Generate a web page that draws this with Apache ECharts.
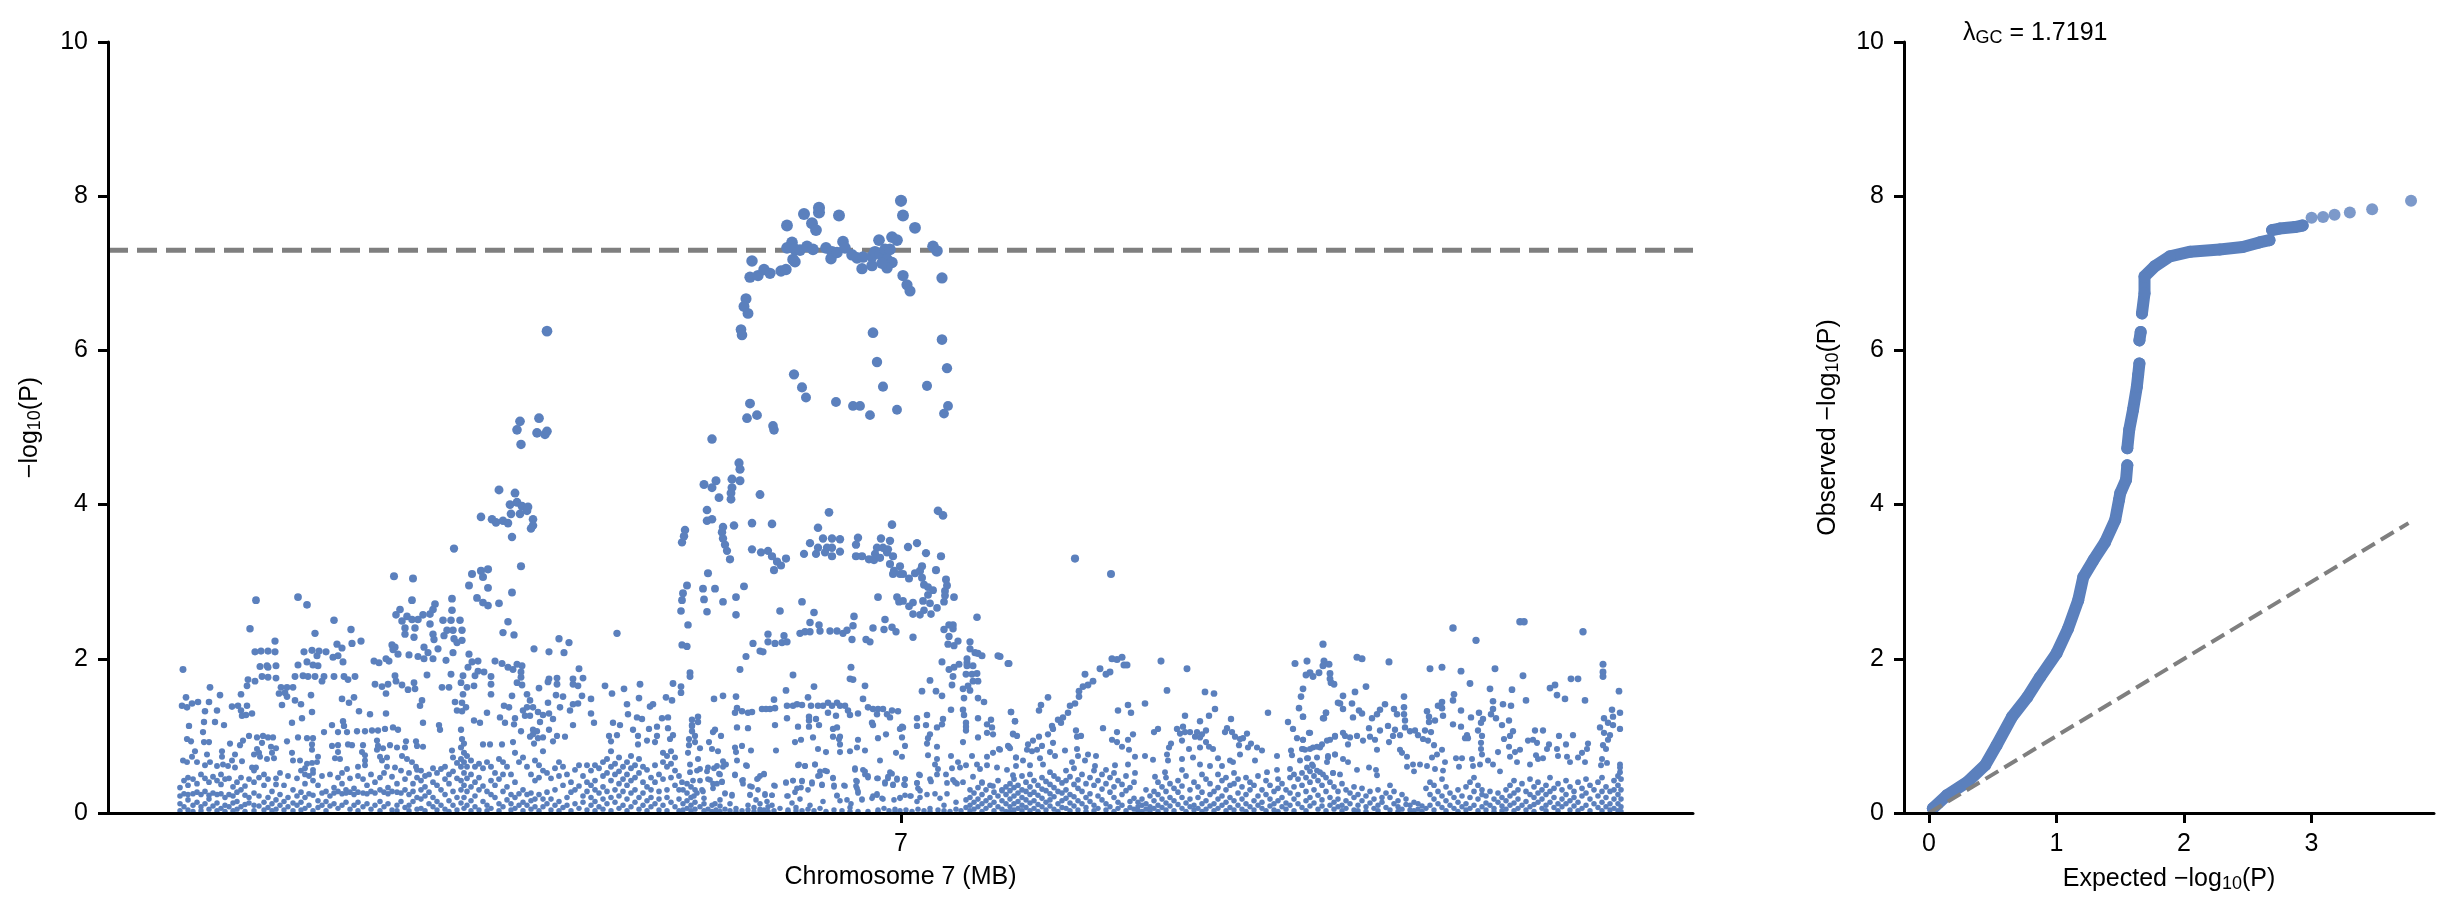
<!DOCTYPE html>
<html>
<head>
<meta charset="utf-8">
<style>html,body{margin:0;padding:0;background:#fff}#main{width:2452px;height:916px}</style>
<script src="https://cdn.jsdelivr.net/npm/echarts@6/dist/echarts.min.js"></script>
</head>
<body>
<div id="main"></div>
<script>
// flat lists: position, -log10(P), position, -log10(P) ...  (position in kb along the plotted stretch)
var peakTop = [793,7.94,795,7.75,807,7.59,711,7.85,711,7.79,696,7.77,731,7.75,704,7.65,708,7.56,679,7.62,684,7.4,679,7.33,687,7.31,692,7.3,699,7.35,705,7.31,718,7.33,724,7.28,723,7.19,729,7.27,735,7.41,737,7.33,744,7.24,749,7.2,755,7.21,764,7.22,771,7.43,767,7.28,772,7.25,777,7.31,782,7.31,784,7.47,789,7.43,779,7.18,784,7.14,779,7.07,774,7.13,764,7.1,754,7.06,795,6.97,799,6.85,802,6.77,825,7.35,829,7.29,834,6.94,685,7.18,687,7.15,644,7.16,642,6.95,650,6.97,656,7.05,662,7,673,7.03,678,7.05,638,6.67,636,6.57,640,6.48,633,6.27,634,6.2,765,6.23,834,6.14,769,5.85,839,5.77,686,5.69,694,5.52,698,5.39,775,5.53,819,5.54,728,5.33,745,5.28,752,5.28,789,5.23,840,5.28,836,5.18,762,5.16,642,5.31,649,5.16,639,5.12,665,5.02,666,4.97];
var peakMid = [604,4.85,631,4.54,632,4.46,624,4.33,632,4.31,608,4.31,596,4.26,604,4.22,624,4.22,623,4.15,652,4.13,611,4.09,623,4.07,599,3.93,604,3.81,599,3.79,577,3.67,576,3.59,574,3.51,615,3.71,614,3.64,615,3.56,617,3.48,619,3.4,626,3.73,644,3.76,664,3.75,644,3.42,653,3.38,660,3.4,664,3.33,678,3.3,669,3.26,673,3.21,666,3.15,622,3.29,721,3.9,710,3.7,702,3.5,696,3.36,708,3.36,710,3.44,715,3.56,724,3.56,732,3.55,719,3.44,717,3.38,724,3.44,724,3.33,732,3.39,750,3.57,748,3.48,748,3.33,754,3.33,761,3.29,766,3.28,773,3.56,782,3.53,769,3.44,775,3.44,780,3.42,767,3.36,772,3.31,779,3.38,785,3.33,784,3.74,800,3.45,809,3.5,818,3.37,833,3.33,830,3.92,835,3.86];
var peakArc = [782,3.23,792,3.2,786,3.14,785,3.1,792,3.1,795,3.1,801,3.04,807,3.11,812,3.14,814,3.2,828,3.15,814,3.05,816,2.96,820,2.93,825,2.89,838,3.03,839,2.95,837,2.88,837,2.82,836,2.74,846,2.8,820,2.83,815,2.75,822,2.72,829,2.66,805,2.73,801,2.68,795,2.75,789,2.8,791,2.74,770,2.8,816,2.63,823,2.58,812,2.57,805,2.58,869,2.54,841,2.44,845,2.44,845,2.39,836,2.38,841,2.29,850,2.23,840,2.19,846,2.17,862,2.22,862,2.13,867,2.08,870,2.07,874,2.04,859,2,890,2.04,600,3.11,579,2.95,595,2.91,607,2.91,636,2.94,575,2.85,596,2.77,574,2.76,615,2.74,628,2.8,573,2.62,599,2.61,628,2.57,580,2.44,574,2.18,579,2.16,694,2.74,706,2.6,672,2.62,702,2.47,711,2.44,746,2.55,745,2.43,777,2.51,692,2.33,697,2.35,702,2.35,712,2.36,722,2.36,729,2.36,735,2.33,739,2.37,765,2.4,776,2.38,784,2.41,788,2.35,744,2.25,758,2.25,762,2.22,805,2.28,660,2.32,676,2.3,660,2.22,667,2.2,674,2.21,679,2.22,645,2.2,652,2.1,655,2.09,638,2.03];
var leftHump = [439,6.25,431,5.12,412,5.08,409,4.97,429,4.93,437,4.91,439,4.95,413,4.78,391,4.19,407,4.15,402,4,409,4.03,414,3.98,420,3.97,419,3.92,412,3.88,403,3.88,373,3.84,384,3.81,388,3.77,395,3.79,400,3.76,425,3.81,425,3.73,423,3.69,404,3.58,346,3.43,413,3.2,373,3.14,380,3.16,364,3.1,375,3.06,361,2.95,380,2.92,404,2.86,369,2.79,375,2.73,380,2.69,391,2.72,344,2.78,327,2.71,325,2.64,344,2.63,315,2.57,322,2.58,335,2.5,343,2.5,352,2.5,400,2.48,322,2.45,395,2.34,406,2.31,339,2.37,345,2.37,354,2.37,325,2.32,336,2.3,326,2.25,346,2.26,354,2.24,349,2.21,316,2.15,330,2.13,320,2.08,345,2.08,316,2,325,2,338,1.98,361,2.06,364,1.96,370,1.97,360,1.89,387,1.97,394,1.94,400,1.89,409,1.93,414,1.91,405,1.86,413,1.83,426,2.13,451,2.26,461,2.21,441,2.09,456,2.08,509,2.33,319,1.79,343,1.8,355,1.78,376,1.83,370,1.84,367,1.78,383,1.77,413,1.76,471,1.87,475,1.75,449,1.75,441,1.74,465,1.74,353,1.69,334,1.63,341,1.63,359,1.63,366,1.65,383,1.67,409,1.69,414,1.66,431,1.62,449,1.67,440,1.7,465,1.67,470,1.65,497,1.65,516,1.61,532,1.67,504,1.55,565,1.68,573,1.64,531,1.49,558,1.5,564,1.46];
var leftSpread = [355,1.54,383,1.54,404,1.52,419,1.54,448,1.53,455,1.51,474,1.52,314,1.46,347,1.44,354,1.43,422,1.46,440,1.43,483,1.48,470,1.42,396,1.39,401,1.37,358,1.37,349,1.33,354,1.32,379,1.3,419,1.37,415,1.33,425,1.37,452,1.37,462,1.33,465,1.41,519,1.41,542,1.38,545,1.41,430,1.31,435,1.27,441,1.29,483,1.29,520,1.28,529,1.24,534,1.22,554,1.23,560,1.24,590,1.25,392,1.24,407,1.23,417,1.26,422,1.26,445,1.22,432,1.18,486,1.17,366,1.2,372,1.17,397,1.17,406,1.15,315,1.17,331,1.14,332,1.08,353,1.08,465,1.14,505,1.17,512,1.14,549,1.12,584,1.21,584,1.14,541,1.09,560,1.1,525,1.08,413,1.06,425,1.08,429,1.06,441,1.08,449,1,457,.99,422,.99,425,1.02,435,.98,430,.97,509,1.01,501,1,530,1,549,1,565,1.01,587,1,354,.96,539,.94,547,.92,562,.96,581,.96,445,.93,426,.9,405,.92,394,.89,375,.89,382,.89,503,.93,530,.89,315,.86,344,.81];
var farLeft = [286,3.07,305,3.04,190,2.8,199,2.7,148,2.76,304,2.76,292,2.64,288,2.57,299,2.55,294,2.49,304,2.51,310,2.51,226,2.5,297,2.4,307,2.4,297,2.32,306,2.28,142,2.39,243,2.38,207,2.33,167,2.23,253,2.23,244,2.2,229,2.19,234,2.14,284,2.18,287,2.15,285,2.12,147,2.09,153,2.1,160,2.1,167,2.09,196,2.09,204,2.11,211,2.1,218,2.09,209,2.04,290,2.06,301,2.05,310,2.03,225,2.02,230,2.04,199,1.96,235,1.96,266,1.97,271,1.95,278,2,281,1.97,190,1.92,152,1.9,159,1.91,160,1.89,168,1.91,205,1.92,210,1.91,75,1.86,140,1.73,147,1.71,154,1.77,160,1.76,168,1.75,187,1.77,195,1.78,200,1.77,207,1.77,216,1.77,214,1.71,226,1.77,236,1.77,240,1.73,247,1.77,287,1.78,288,1.71,267,1.67,274,1.64,280,1.67,294,1.66,306,1.69,139,1.65,102,1.63,173,1.63,179,1.63,185,1.63,300,1.6,307,1.61,171,1.55,177,1.56,179,1.51,278,1.55,133,1.54,78,1.5,112,1.53,203,1.53,234,1.48,246,1.5,241,1.43,187,1.46,90,1.44,84,1.42,101,1.44,74,1.39,79,1.37,124,1.38,130,1.39,139,1.39,174,1.4,193,1.41,97,1.32,109,1.33,133,1.33,144,1.29,134,1.26,138,1.27,204,1.31,251,1.32,262,1.28,278,1.29,312,1.39];
var farLeftLow = [194,1.23,96,1.18,107,1.18,184,1.17,116,1.14,81,1.13,235,1.19,236,1.13,224,1.14,95,1.05,216,1.05,230,1.05,239,1.05,249,1.06,257,1.06,264,1.07,270,1.07,277,1.09,285,1.11,290,1.08,141,1,149,.98,155,1,160,.98,165,.98,190,.98,199,.97,205,.97,79,.96,83,.93,179,.93,135,.94,96,.92,101,.92,122,.9,132,.88,154,.91,269,.94,270,.87,298,.93,308,.93,204,.89,224,.87,230,.88,240,.89,244,.88,255,.88,282,.88,289,.85,204,.82,163,.86,168,.84,149,.83,269,.82,275,.84,297,.85,309,.87,87,.8,114,.8,151,.78,184,.78,230,.79,254,.79,164,.78,99,.76,114,.73,127,.76,146,.76,152,.73,210,.73,294,.74,257,.75,84,.73,166,.71,159,.7,227,.71,232,.7,272,.73,279,.72,299,.7,75,.68,79,.66,89,.66,102,.66,97,.62,109,.61,115,.63,120,.61,124,.68,134,.67,185,.68,192,.68,199,.64,204,.65,209,.66,257,.68,274,.68,304,.66,127,.59,144,.59,148,.59,197,.58,205,.56,239,.57,250,.6,257,.62,287,.59,279,.6,308,.6];
var centreLow = [743,1.89,742,1.74,745,1.73,757,1.65,706,1.64,685,1.79,582,1.82,582,1.77,632,1.86,678,1.59,814,1.58,822,1.72,828,1.58,834,1.52,844,1.66,845,1.77,834,1.96,841,1.86,846,1.89,851,1.93,859,1.95,859,1.91,865,1.91,858,1.8,864,1.8,869,1.81,865,1.71,870,1.71,860,1.65,855,1.61,862,1.59,856,1.49,870,1.49,876,1.44,900,1.94,573,1.56,606,1.48,615,1.52,628,1.51,666,1.47,700,1.5,755,1.48,679,1.39,685,1.39,689,1.41,694,1.4,703,1.39,710,1.39,715,1.39,720,1.43,724,1.39,729,1.43,732,1.39,737,1.39,654,1.35,658,1.35,662,1.35,667,1.36,627,1.3,629,1.36,634,1.32,640,1.3,644,1.31,760,1.37,765,1.35,770,1.35,775,1.35,769,1.28,779,1.28,784,1.33,790,1.32,782,1.24,740,1.33,742,1.27,750,1.29,720,1.3,728,1.26,843,1.34,855,1.34,856,1.27,903,1.31,907,1.19,679,1.23,701,1.25,701,1.2,708,1.22,809,1.23,819,1.27,835,1.22,870,1.23,883,1.21,590,1.18,584,1.13,584,1.06,629,1.11,640,1.1,667,1.14,690,1.12,701,1.12,711,1.14,725,1.09,729,1.11,764,1.17,765,1.14,809,1.13,818,1.14,829,1.11,834,1.15,794,1.12,795,1.11,792,1.09,858,1.17,858,1.12,858,1.07,879,1.15,884,1.11,879,1.04,885,1.02,607,1.08,605,1.05,613,1,725,.99,732,.99,705,.98,693,.95,687,.92,750,.95,732,.89,731,.96,770,.97,778,1.02,794,.98,822,1.02,820,.97,870,.98,905,1.02,855,.92,819,.9];
var centreBase = [587,.92,601,.92,581,.88,592,.84,604,.83,610,.8,634,.87,627,.85,643,.81,580,.78,628,.79,668,.81,710,.83,718,.79,732,.79,742,.8,749,.85,757,.81,788,.78,797,.87,829,.86,900,.87,891,.83,885,.78,879,.73,864,.74,843,.74,820,.75,794,.73,590,.7,629,.68,615,.67,618,.63,638,.62,772,.68,691,.63,697,.61,707,.63,829,.7,827,.63,850,.66,858,.62,869,.63,879,.62,908,.72,582,.63,609,.61,600,.59,592,.57,615,.6,747,.58,717,.55,712,.54,755,.56,830,.57,844,.58,852,.59,872,.57,889,.59,899,.56,582,.53,589,.55,611,.51,627,.5,656,.51,652,.48,649,.44,710,.48,725,.46,757,.5,760,.48,782,.53,780,.47,789,.45,797,.44,811,.5,829,.5,838,.5,865,.47,905,.49,574,.4,579,.38,585,.42,592,.42,600,.44,605,.38,614,.4,634,.42,635,.38,642,.35,666,.36,678,.4,685,.42,694,.42,704,.4,714,.37,726,.36,736,.36,748,.42,748,.35,750,.28,770,.45,777,.4,785,.37,796,.37,809,.39,822,.44,839,.39,847,.4,855,.4,874,.39,885,.35,894,.29,586,.22,595,.28,589,.26,617,.26,624,.24,642,.24,657,.25,664,.23,679,.22,687,.27,693,.33,729,.23,754,.18,765,.22,769,.25,774,.19,792,.2,797,.23,803,.22];
var centreRing = [599,.54,606,.58,612,.5,602,.43,609,.38,614,.41,594,.3,605,.32,596,.19,607,.12,612,.17,617,.25,624,.22,627,.49,635,.43,639,.61,644,.34,650,.45,656,.5,642,.23,650,.3,657,.23,664,.23,648,.17,659,.15,664,.1,667,.35,678,.39,685,.42,694,.41,690,.62,697,.61,707,.63,704,.38,689,.32,700,.3,680,.22,692,.18,684,.13,702,.1,715,.15,714,.36,712,.49,719,.54,725,.45,726,.34,737,.35,729,.22,732,.16,739,.17,743,.12,747,.56,757,.54,760,.46,749,.41,749,.32,750,.26,754,.17,769,.45,777,.38,784,.51,780,.45,789,.43,785,.36,797,.44,797,.36,812,.49,809,.39,810,.32,812,.29,769,.23,764,.19,775,.18,786,.17,792,.19,802,.22,812,.2,809,.15,819,.24,827,.25,823,.41,832,.19,839,.25,845,.43,849,.38];
var rightRise = [967,3.3,1003,3.1,892,2.03,901,1.94,1004,2,1009,1.99,1014,2.02,1016,1.92,1019,1.92,1053,1.97,1079,1.87,992,1.87,977,1.8,998,1.8,1002,1.83,985,1.71,980,1.66,975,1.64,971,1.58,971,1.51,967,1.42,962,1.39,960,1.3,955,1.24,950,1.21,953,1.17,944,1.13,945,1.09,940,1.5,933,1.4,931,1.33,903,1.31,907,1.19,905,1.03,909,1,940,1.02,931,.99,925,.94,920,.89,934,.87,945,.91,919,.82,924,.8,929,.82,901,.86,902,.84,892,.82,968,1.07,969,.99,973,1,995,1.1,1009,1.05,1004,.95,1009,.92,1020,.95,1025,1.02,1014,.86,1021,.82,1010,1.33,1020,1.4,1023,1.3,1037,1.42,1059,1.59,1097,1.57,1106,1.55,1107,1.35,1101,1.26,1077,1.26,1092,1.19,1123,1.22,1160,1.3,1046,1.05,1050,1.09,1069,1.09,1075,1.12,1072,1.03,1077,1.05,1074,.94,1082,1.05,1089,1.05,1087,.99,1094,1.02,1098,1.07,1092,.98,1119,1.1,1117,1.05,1124,1.05,1127,.99,1132,.96,1139,1.03,1135,.97,1143,.9,1140,.85,1149,.85,1154,.81,1131,.88,1063,.9,1061,.85,1059,.76,1060,.68,1081,.83,1092,.85,1098,.92,1101,.86,1105,.83,1110,.71,1037,.74,1045,.69,1027,.73,1169,.74,1180,1.18,1185,1.09,1189,.97,1195,.95,1202,1.04,1187,1.94,1199,1.97,1215,2.19,1216,1.97,1215,1.91,1221,1.93,1211,1.82,1222,1.81,1198,1.79,1202,1.82,1205,1.77,1222,1.74,1223,1.69,1226,1.67,1195,1.61,1193,1.51,1230,1.43,1191,1.36,1195,1.25,1218,1.3,1215,1.23,1219,.94,1227,.99,1212,.85,1205,.85,1197,.82,1194,.83,1183,.81,1184,.75,1199,.71,1220,.72,1227,.76,908,.72,915,.68,922,.62,908,.61,932,.71,935,.63,942,.79,947,.74,942,.53,957,.81,969,.83,970,.74,964,.66,980,.76,988,.74,977,.68,987,.61,1007,.62,1020,.63,1027,.52,1047,.47,1057,.53,1074,.7,1085,.72,1092,.63,1102,.61,1114,.61,1122,.68,1125,.66,1132,.76,1147,.68,1159,.53,1169,.56,1182,.57,1192,.68,1204,.63,1212,.53,1225,.52];
var farRight = [1249,2.02,1254,2,1281,1.96,1345,2.4,1368,2.24,1412,2.48,1416,2.48,1475,2.35,1495,1.93,1495,1.83,1495,1.77,1322,1.87,1334,1.89,1353,1.84,1387,1.87,1415,1.78,1362,1.68,1258,1.64,1382,1.61,1404,1.6,1442,1.62,1447,1.66,1463,1.74,1470,1.74,1449,1.53,1457,1.48,1511,1.58,1477,1.46,1247,1.57,1235,1.52,1296,1.51,1346,1.54,1345,1.46,1385,1.45,1418,1.46,1244,1.42,1232,1.42,1235,1.35,1277,1.41,1272,1.34,1286,1.35,1296,1.37,1289,1.28,1296,1.28,1251,1.33,1254,1.29,1245,1.24,1269,1.28,1264,1.23,1334,1.44,1330,1.39,1334,1.36,1319,1.32,1335,1.26,1321,1.25,1327,1.2,1321,1.18,1353,1.33,1363,1.24,1371,1.3,1375,1.22,1373,1.17,1385,1.35,1383,1.28,1395,1.41,1403,1.39,1388,1.23,1401,1.2,1394,1.14,1345,1.15,1353,1.12,1504,1.34,1512,1.3,1505,1.25,1496,1.23,1500,1.17,1505,1.14,1492,1.11,1512,1.09,1496,1.04,1502,1.01,1500,.95,1218,1.3,1216,1.23,1195,1.25,1261,1.1,1272,1.07,1280,1.13,1287,1.08,1297,1.2,1297,1.11,1302,1.06,1307,1.07,1317,1.07,1323,1.05,1310,1.01,1315,.96,1320,.94,1326,.88,1370,1.07,1374,1,1373,.91,1373,.83,1374,.76,1359,1.01,1357,.97,1360,.97,1405,1.06,1402,1,1396,.96,1401,.86,1427,1.07,1435,1.07,1420,.94,1425,.95,1429,.91,1451,1,1465,1.01,1441,.89,1458,.89,1480,.9,1479,.83,1474,.78,1470,.72,1449,.83,1439,.83,1450,.74,1435,.71,1428,.75,1430,.7,1459,.73,1462,.66,1477,.66,1495,.88,1498,.83,1494,.7,1499,.65,1493,.62,1512,.63,1512,.59,1512,.53,1412,.82,1407,.79,1402,.73,1409,.66,1422,.63,1390,.79,1372,.63,1364,.7,1365,.61,1348,.71,1354,.71,1351,.6,1380,.68,1385,.63,1392,.54,1334,.82,1329,.76,1324,.72,1337,.66,1319,.61,1312,.63,1305,.63,1299,.6,1306,.54,1292,.82,1294,.78,1299,.73,1327,.57,1335,.55,1261,.59,1268,.56,1269,.49,1249,.56,1269,.82,1281,.92,1240,.89,1235,1.04,1237,1,1242,.98,1249,1,1255,.94,1262,.99,1267,.95,1285,1,1292,1.01,1227,1,1222,.95,1214,.89,1209,.86,1202,.83,1195,.83,1195,.95,1201,1.04,1227,.76,1235,.7,1240,.66,1219,.66,1220,.74,1209,.72,1200,.71,1205,.61,1225,.52,1232,.5,1215,.5,1199,.59,1209,.55];

// the crowded floor of the plot, one row per stretch: position, then the values seen there
var floorLeft = [[72,.33,.22,.12,.03],[76,.42,.25,.08],[80,.46,.36,.24,.17,.04],[85,.44,.25,.1,.02],[89,.38,.27,.14],[93,.5,.24,.08,.03],[97,.45,.28,.12],[101,.4,.23,.18,.05],[105,.47,.26,.09],[109,.42,.24,.13,.03],[113,.5,.37,.25,.06],[117,.44,.2,.1,.02],[121,.45,.24,.08],[125,.34,.22,.13,.03],[129,.4,.27,.15,.05],[133,.46,.3,.08],[137,.35,.23,.11,.02],[141,.44,.2,.13],[146,.55,.4,.26,.1,.03],[151,.46,.22,.09],[156,.5,.36,.14,.04],[160,.44,.2,.07],[164,.28,.12,.03],[168,.45,.37,.17,.05],[172,.52,.24,.1],[176,.36,.15,.04],[180,.48,.2,.08],[185,.3,.13,.03],[189,.45,.22,.1],[193,.55,.27,.14,.04],[197,.5,.38,.2,.06],[201,.48,.25,.1],[205,.52,.42,.23,.03],[210,.36,.16,.07],[214,.48,.26,.1],[218,.28,.15,.03],[222,.5,.22,.09],[226,.33,.26,.12],[230,.46,.28,.06],[234,.52,.38,.25,.1],[238,.3,.26,.14],[242,.45,.27,.05],[246,.32,.24,.1],[250,.48,.27,.14,.03],[255,.44,.26,.08],[259,.36,.25,.12],[263,.5,.28,.05],[267,.4,.26,.1],[272,.46,.3,.15,.03],[276,.52,.27,.08],[280,.33,.25,.12],[284,.47,.28,.04],[289,.38,.27,.1,.03],[293,.55,.26,.15],[297,.44,.3,.07],[301,.52,.24,.1,.03],[305,.38,.28,.15],[309,.56,.46,.2,.05]];
var floorHump = [[313,.55,.42,.3,.18,.06],[317,.48,.34,.22,.03],[321,.5,.27,.12],[325,.58,.4,.2,.08],[329,.52,.36,.15,.04],[333,.57,.3,.1],[337,.6,.44,.24,.05],[341,.5,.38,.16,.02],[345,.72,.54,.28,.1],[349,.65,.45,.2,.04],[353,.85,.7,.6,.42,.3,.13],[356,.9,.78,.66,.52,.36,.2,.06],[359,.74,.6,.45,.28,.1],[363,.68,.5,.34,.16,.03],[367,.6,.4,.22,.08],[371,.64,.46,.3,.04],[375,.58,.35,.15],[379,.66,.28,.1,.03],[383,.6,.42,.24,.06],[387,.52,.36,.2],[391,.7,.44,.12,.03],[395,.66,.5,.28,.08],[399,.6,.34,.17],[403,.5,.24,.12,.04],[407,.78,.4,.2,.06],[411,.66,.25,.1],[415,.72,.3,.14,.03],[419,.6,.24,.1],[423,.5,.26,.16,.05],[427,.68,.42,.18,.08],[431,.62,.46,.24,.03],[435,.8,.55,.18,.08],[439,.52,.27,.12],[443,.45,.18,.04],[447,.58,.3,.1],[451,.66,.48,.15,.03],[455,.6,.36,.07],[459,.5,.2,.1],[463,.4,.27,.03],[467,.56,.3,.12],[471,.62,.35,.06],[475,.48,.22,.14],[479,.62,.4,.28,.04],[483,.55,.36,.2,.1],[487,.62,.42,.3,.15,.03],[491,.58,.26,.08],[495,.66,.48,.34,.18,.05],[499,.7,.52,.28,.12],[503,.8,.6,.42,.2,.03],[507,.64,.5,.3,.14],[511,.72,.54,.38,.22,.06],[515,.6,.44,.28,.1],[519,.66,.5,.36,.18,.03],[523,.74,.58,.42,.26,.08],[527,.62,.46,.3,.14],[531,.7,.52,.2,.05],[535,.6,.4,.26,.1],[539,.56,.34,.16,.03],[543,.46,.3,.2,.08],[547,.62,.4,.12],[551,.5,.28,.18,.04],[555,.78,.66,.44,.1],[559,.74,.6,.3,.2,.03],[563,.8,.64,.46,.14],[567,.72,.55,.36,.08],[571,.48,.3,.18,.03]];
var floorCentre = [[575,.3,.12,.04],[579,.26,.16,.06],[583,.34,.2,.1,.03],[587,.3,.14,.05],[592,.08],[596,.12,.03],[600,.05],[604,.1,.02],[608,.04],[612,.09,.02],[617,.05],[622,.12,.03],[628,.06,.02],[634,.03],[640,.1,.04],[646,.07,.02],[652,.12,.05,.02],[656,.04],[660,.08,.02],[666,.03],[672,.06],[680,.04,.02],[688,.07,.03],[694,.03],[700,.05],[706,.03],[712,.06],[718,.02],[726,.04],[734,.03],[742,.07,.02],[750,.02],[760,.02],[770,.04,.02],[776,.06],[781,.03],[787,.05,.02],[792,.03],[798,.04],[804,.02],[810,.05],[816,.03],[822,.06,.02],[830,.04],[836,.1,.03],[842,.02],[848,.14,.05],[853,.03],[858,.17,.07],[862,.3,.2,.1,.03],[866,.26,.14,.05],[870,.33,.18,.08],[874,.4,.24,.12,.02],[878,.3,.16,.06],[882,.36,.2,.1],[886,.27,.14,.03],[890,.42,.22,.08],[894,.3,.16,.05],[898,.34,.24,.12,.02]];
var floorRise = [[902,.38,.29,.18,.08,.02],[906,.44,.33,.22,.12,.04],[910,.36,.26,.15,.06],[914,.48,.3,.2,.1,.03],[918,.4,.28,.17,.07],[922,.5,.34,.24,.13,.03],[926,.42,.27,.16,.06],[930,.36,.23,.11,.02],[934,.46,.31,.19,.08],[938,.41,.29,.14,.04],[942,.37,.25,.17,.09],[946,.48,.33,.21,.05],[950,.44,.28,.12,.02],[954,.39,.26,.16,.07],[958,.55,.42,.3,.19,.06],[962,.47,.24,.13,.03],[966,.58,.37,.21,.09],[970,.43,.32,.16,.04],[974,.5,.28,.12],[978,.38,.2,.07,.02],[982,.46,.25,.15],[986,.55,.36,.1,.03],[990,.42,.22,.06],[994,.5,.31,.17],[998,.56,.38,.12,.04],[1002,.46,.27,.08],[1006,.52,.34,.2,.02],[1010,.42,.14,.06],[1014,.37,.24,.1],[1018,.48,.29,.03],[1022,.33,.15,.07],[1026,.4,.19,.05],[1030,.14,.08,.03],[1034,.18,.1,.02],[1038,.3,.12,.05],[1042,.22,.08,.03],[1046,.28,.16,.06],[1050,.4,.24,.1,.02],[1054,.34,.18,.07],[1058,.46,.28,.13,.04],[1062,.38,.2,.09],[1066,.32,.16,.03],[1070,.42,.27,.11],[1074,.56,.35,.2,.06],[1078,.48,.13,.02],[1082,.3,.18,.08],[1086,.4,.1,.04],[1090,.34,.2,.06],[1094,.5,.27,.12,.02],[1098,.44,.16,.05],[1102,.38,.24,.09],[1106,.28,.12,.03],[1110,.5,.33,.18,.06],[1114,.42,.22,.1],[1118,.46,.3,.14,.03],[1122,.36,.2,.07],[1126,.52,.38,.16,.04],[1130,.44,.26,.1],[1134,.34,.18,.05],[1138,.46,.24,.12,.02],[1142,.4,.3,.08],[1146,.36,.16,.04],[1150,.48,.22,.1],[1154,.3,.14,.06],[1158,.42,.24,.03],[1162,.36,.18,.09],[1166,.28,.12,.04],[1170,.44,.32,.16,.02],[1174,.38,.2,.08],[1178,.3,.13,.05],[1182,.46,.26,.1],[1186,.5,.34,.18,.03],[1190,.44,.24,.12],[1194,.52,.36,.07],[1198,.46,.28,.16,.03],[1202,.54,.4,.2,.09],[1206,.48,.3,.13],[1210,.42,.23,.05],[1214,.36,.17,.09],[1218,.46,.28,.03],[1222,.4,.2,.1],[1226,.34,.14,.05],[1230,.28,.18,.08],[1234,.38,.1,.03],[1238,.3,.16,.06],[1242,.26,.12],[1246,.34,.2,.04]];
var floorRight = [[1250,.24,.1,.03],[1254,.32,.16],[1258,.22,.08,.02],[1262,.28,.13],[1266,.18,.06],[1270,.3,.1,.03],[1274,.2,.14],[1278,.26,.07],[1282,.36,.2,.04],[1286,.28,.12],[1290,.16,.08,.02],[1294,.24,.05],[1298,.18,.11],[1302,.1,.04],[1306,.14,.03],[1310,.12,.05],[1314,.09,.02],[1318,.32,.06],[1322,.4,.24,.1],[1326,.36,.18,.04],[1330,.28,.12],[1334,.44,.22,.07],[1338,.34,.16,.03],[1342,.26,.1],[1346,.2,.06],[1350,.3,.14,.02],[1354,.22,.08],[1358,.34,.12,.04],[1362,.4,.2,.06],[1366,.46,.28,.1],[1370,.36,.18,.03],[1374,.3,.24,.08],[1378,.22,.13,.04],[1382,.28,.1],[1386,.18,.06,.02],[1390,.26,.14],[1394,.2,.09,.03],[1398,.3,.16,.05],[1402,.36,.22,.1],[1406,.42,.26,.13,.03],[1410,.3,.18,.06],[1414,.38,.1],[1418,.28,.15,.04],[1422,.44,.24,.08],[1426,.34,.2,.11,.02],[1430,.4,.26,.14],[1434,.3,.18,.06],[1438,.36,.24,.1,.03],[1442,.46,.28,.14],[1446,.32,.2,.07],[1450,.38,.12,.03],[1454,.3,.18,.08],[1458,.42,.24,.12],[1462,.34,.16,.04],[1466,.28,.2,.09],[1470,.4,.14,.03],[1474,.32,.22,.06],[1478,.44,.26,.1],[1482,.36,.18,.03],[1486,.3,.12],[1490,.4,.22,.07],[1494,.46,.28,.14,.03],[1498,.34,.2,.08],[1502,.28,.12,.04],[1506,.42,.3,.18,.06],[1510,.48,.36,.24,.12,.03],[1513,.44,.3,.18,.08,.02]];

var qqExpectedA = [.03,.14,.3,.44,.53,.65,.77,.87,1,1.09,1.17,1.21,1.29,1.38,1.46,1.49,1.5,1.545,1.555];
var qqObservedA = [.06,.23,.4,.62,.88,1.245,1.5,1.76,2.07,2.39,2.76,3.06,3.28,3.51,3.8,4.06,4.15,4.32,4.51];
var qqExpectedB = [1.555,1.57,1.6,1.63,1.64,1.65];
var qqObservedB = [4.73,4.97,5.23,5.53,5.68,5.83];
var qqExpectedC = [1.65,1.66];
var qqObservedC = [6.13,6.24];
var qqExpectedD = [1.67,1.69,1.69,1.77,1.89,2.05,2.28,2.46,2.59,2.67];
var qqObservedD = [6.48,6.74,6.96,7.09,7.22,7.28,7.31,7.34,7.4,7.43];
var qqExpectedE = [2.69,2.75,2.87,2.93];
var qqObservedE = [7.56,7.58,7.6,7.62];
var qqExpectedTop = [3,3.09,3.18,3.3,3.475,3.78];
var qqObservedTop = [7.72,7.73,7.76,7.79,7.83,7.94];
var yTicks = [0,2,4,6,8,10];
var gwasLine = 7.3;
var qqDiagonalEnd = 3.76;
var lambdaText = 1.7191;

var blue = '#5b80bd';
var grey = '#7f7f7f';
var fontName = '"Liberation Sans", Arial, sans-serif';

function pairs(flat) {
    var out = [];
    for (var i = 0; i < flat.length; i += 2) {
        out.push([flat[i], flat[i + 1]]);
    }
    return out;
}
function rows(list) {
    var out = [];
    list.forEach(function (row) {
        for (var i = 1; i < row.length; i++) {
            out.push([row[0], row[i]]);
        }
    });
    return out;
}
function zipXY(xs, ys) {
    return xs.map(function (x, i) {
        return [x, ys[i]];
    });
}

var manhattan = [].concat(
    rows(floorLeft), rows(floorHump), rows(floorCentre), rows(floorRise), rows(floorRight),
    pairs(centreRing), pairs(centreBase), pairs(centreLow), pairs(farLeftLow), pairs(farLeft),
    pairs(leftSpread), pairs(leftHump), pairs(rightRise), pairs(farRight),
    pairs(peakArc), pairs(peakMid), pairs(peakTop)
);

var subStyle = {fontSize: 18, padding: [10, 0, 0, 0], fontFamily: fontName, color: '#000'};

function axisBase() {
    return {
        axisLine: {show: true, onZero: false, lineStyle: {color: '#000', width: 3}},
        axisTick: {show: true, length: 10, lineStyle: {color: '#000', width: 3}},
        splitLine: {show: false},
        nameLocation: 'middle',
        z: 5
    };
}
function textStyle() {
    return {fontFamily: fontName, fontSize: 25, color: '#000', rich: {sub: subStyle}};
}

var yLeft = axisBase();
yLeft.type = 'value'; yLeft.gridIndex = 0; yLeft.min = 0; yLeft.max = 10; yLeft.interval = 2;
yLeft.axisLabel = {margin: 20, fontFamily: fontName, fontSize: 25, color: '#000'};
yLeft.name = '−log{sub|10}(P)'; yLeft.nameGap = 64; yLeft.nameRotate = 90; yLeft.nameTextStyle = textStyle();

var yRight = axisBase();
yRight.type = 'value'; yRight.gridIndex = 1; yRight.min = 0; yRight.max = 10; yRight.interval = 2;
yRight.axisLabel = {margin: 20, fontFamily: fontName, fontSize: 25, color: '#000'};
yRight.name = 'Observed −log{sub|10}(P)'; yRight.nameGap = 62; yRight.nameRotate = 90; yRight.nameTextStyle = textStyle();

var xLeft = axisBase();
xLeft.type = 'value'; xLeft.gridIndex = 0; xLeft.min = 0; xLeft.max = 1585;
xLeft.axisTick.customValues = [793];
xLeft.axisLabel = {customValues: [793], margin: 19, fontFamily: fontName, fontSize: 25, color: '#000', formatter: function () { return '7'; }};
xLeft.name = 'Chromosome 7 (MB)'; xLeft.nameGap = 52; xLeft.nameTextStyle = textStyle();

var xRight = axisBase();
xRight.type = 'value'; xRight.gridIndex = 1; xRight.min = -0.196; xRight.max = 3.96;
xRight.axisTick.customValues = [0, 1, 2, 3];
xRight.axisLabel = {customValues: [0, 1, 2, 3], margin: 19, fontFamily: fontName, fontSize: 25, color: '#000', formatter: function (v) { return String(v); }};
xRight.name = 'Expected −log{sub|10}(P)'; xRight.nameGap = 52; xRight.nameTextStyle = textStyle();

function qqBand(xs, ys) {
    return {
        type: 'line', xAxisIndex: 1, yAxisIndex: 1, data: zipXY(xs, ys), z: 3,
        symbol: 'circle', symbolSize: 12, showSymbol: true, showAllSymbol: true,
        itemStyle: {color: blue}, lineStyle: {color: blue, width: 12, cap: 'round', join: 'round'},
        silent: true
    };
}

var option = {
    animation: false,
    backgroundColor: '#fff',
    title: {
        text: 'λ{sub|GC} = ' + lambdaText.toFixed(4),
        left: 1958, top: 14,
        textStyle: {fontFamily: fontName, fontSize: 25, fontWeight: 'normal', color: '#000', rich: {sub: subStyle}}
    },
    grid: [
        {left: 108, top: 42, width: 1585, height: 771},
        {left: 1904, top: 42, width: 530, height: 771}
    ],
    xAxis: [xLeft, xRight],
    yAxis: [yLeft, yRight],
    series: [
        {
            type: 'line', xAxisIndex: 0, yAxisIndex: 0, z: 1, showSymbol: false, silent: true,
            data: [[0, gwasLine], [1585, gwasLine]],
            lineStyle: {color: grey, width: 5, type: [20, 9]}
        },
        {
            type: 'scatter', xAxisIndex: 0, yAxisIndex: 0, z: 2, data: manhattan, large: false, progressive: 0,
            symbolSize: function (v) { return 5.4 + 0.85 * v[1]; },
            itemStyle: {color: blue, opacity: 1}, silent: true
        },
        qqBand(qqExpectedA, qqObservedA),
        qqBand(qqExpectedB, qqObservedB),
        qqBand(qqExpectedC, qqObservedC),
        qqBand(qqExpectedD, qqObservedD),
        qqBand(qqExpectedE, qqObservedE),
        {
            type: 'scatter', xAxisIndex: 1, yAxisIndex: 1, z: 3, symbolSize: 12, silent: true,
            data: zipXY(qqExpectedTop, qqObservedTop), itemStyle: {color: blue}
        },
        {
            type: 'line', xAxisIndex: 1, yAxisIndex: 1, z: 4, showSymbol: false, silent: true,
            data: [[0, 0], [qqDiagonalEnd, qqDiagonalEnd]],
            lineStyle: {color: grey, width: 4, type: [15, 7]}
        }
    ]
};

var myChart = echarts.init(document.getElementById('main'));
myChart.setOption(option);
</script>
</body>
</html>
